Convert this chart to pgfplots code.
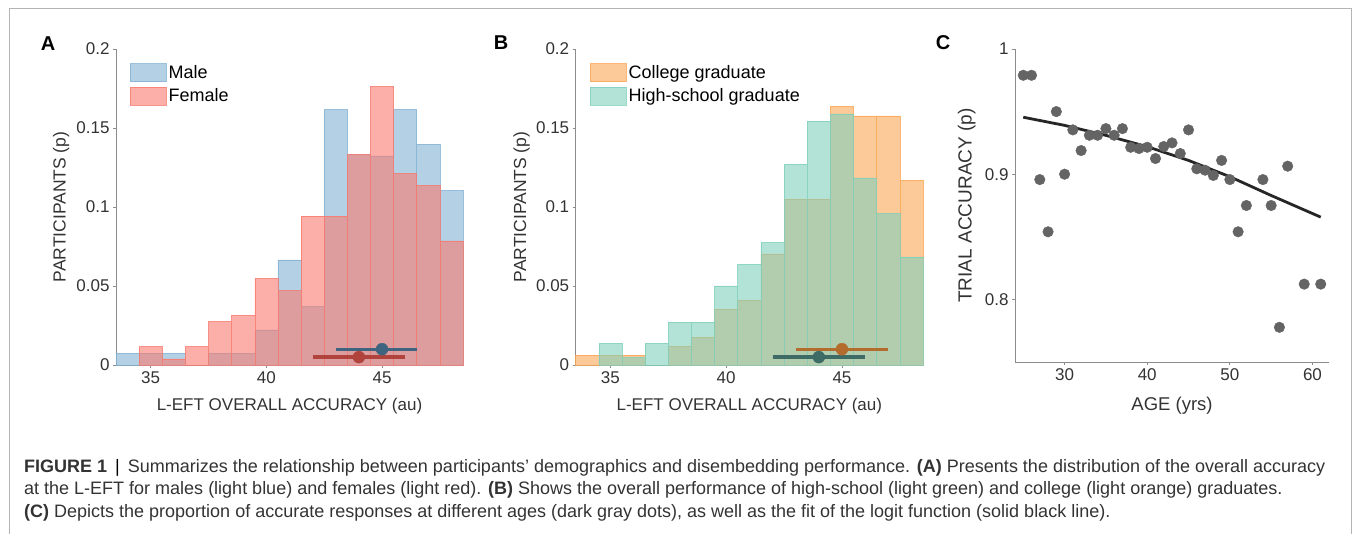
\documentclass[border=0pt]{standalone}
\usepackage{fontspec}
\setmainfont{Liberation Sans}
\usepackage{pgfplots}
\pgfplotsset{compat=1.18}
\definecolor{maleC}{HTML}{82B1D4}
\definecolor{femC}{HTML}{F87A6E}
\definecolor{colC}{HTML}{FAA553}
\definecolor{hsC}{HTML}{80CFBB}
\definecolor{maleD}{HTML}{3E6480}
\definecolor{femD}{HTML}{B0443C}
\definecolor{colD}{HTML}{B36B2E}
\definecolor{hsD}{HTML}{3F6B66}
\definecolor{axC}{HTML}{8C8C8C}
\definecolor{txC}{HTML}{333333}
\definecolor{dotC}{HTML}{646464}
\definecolor{lineC}{HTML}{262626}
\definecolor{frameC}{HTML}{B4B4B4}
\pgfplotsset{
  panel/.style={
    scale only axis, anchor=south west, clip=false,
    axis lines*=left, axis line style={axC, line width=0.8pt},
    tick style={axC, line width=0.8pt}, tick align=outside, major tick length=3pt,
    minor tick num=0,
    ticklabel style={font=\fontsize{17}{17}\selectfont, text=txC},
    xlabel style={font=\fontsize{17}{17}\selectfont, text=txC},
    ylabel style={font=\fontsize{17.5}{17.5}\selectfont, text=txC},
    /pgf/number format/assume math mode=true,
    legend style={draw=none, fill=none, inner sep=0pt, outer sep=0pt,
      font=\fontsize{18}{18}\selectfont, text=black, row sep=5pt,
      anchor=north west, cells={anchor=west}},
  },
  hist/.style={ybar, bar width=1, bar shift=0pt, fill opacity=0.6,
    draw opacity=0.8, line width=0.6pt,
    legend image code/.code={\draw[##1] (0pt,-9pt) rectangle (36pt,9pt);}},
  ebar/.style={line width=3.3pt, no marks, forget plot},
  edot/.style={only marks, mark=*, mark size=6pt, forget plot},
}
\begin{document}
\begin{tikzpicture}
\path[use as bounding box] (0pt,0pt) rectangle (1355pt,533pt);
\draw[frameC, line width=1pt] (9pt,-5pt) -- (9pt,524pt) -- (1351pt,524pt) -- (1351pt,-5pt);
% Panel letters
\node[font=\fontsize{20}{20}\selectfont\bfseries] at (48pt,489pt) {A};
\node[font=\fontsize{20}{20}\selectfont\bfseries] at (501pt,490pt) {B};
\node[font=\fontsize{20}{20}\selectfont\bfseries] at (943pt,490pt) {C};
% ---------- Panel A
\begin{axis}[panel, at={(116pt,168pt)}, width=347pt, height=316pt,
  xmin=33.5, xmax=48.5, ymin=0, ymax=0.2,
  xtick={35,40,45}, ytick={0,0.05,0.1,0.15,0.2},
  yticklabels={0,0.05,0.1,0.15,0.2},
  xlabel={L-EFT OVERALL ACCURACY (au)}, ylabel={PARTICIPANTS (p)},
  xlabel style={at={(axis description cs:0.5,-0.13)}, anchor=center},
  ylabel style={at={(axis description cs:-0.158,0.5)}, anchor=center},
  legend style={at={(rel axis cs:0.0403,0.955)}},
]
\addplot[hist, fill=maleC, draw=maleC] coordinates {
(34,0.0074) (35,0.0074) (36,0.0074) (38,0.0074) (39,0.0074) (40,0.0222)
(41,0.0665) (42,0.0369) (43,0.1616) (44,0.1335) (45,0.1323) (46,0.1616)
(47,0.1397) (48,0.1103)};
\addlegendentry{Male}
\addplot[hist, fill=femC, draw=femC] coordinates {
(35,0.0117) (36,0.0038) (37,0.0117) (38,0.0274) (39,0.0314) (40,0.0549)
(41,0.0470) (42,0.0943) (43,0.0943) (44,0.1333) (45,0.1764) (46,0.1213)
(47,0.1137) (48,0.0785)};
\addlegendentry{Female}
\addplot[ebar, maleD] coordinates {(43,0.01) (46.5,0.01)};
\addplot[edot, mark options={fill=maleD, draw=maleD}] coordinates {(45,0.01)};
\addplot[ebar, femD] coordinates {(42,0.005) (46,0.005)};
\addplot[edot, mark options={fill=femD, draw=femD}] coordinates {(44,0.005)};
\end{axis}
% ---------- Panel B
\begin{axis}[panel, at={(575.7pt,168pt)}, width=347.3pt, height=316pt,
  xmin=33.5, xmax=48.5, ymin=0, ymax=0.2,
  xtick={35,40,45}, ytick={0,0.05,0.1,0.15,0.2},
  yticklabels={0,0.05,0.1,0.15,0.2},
  xlabel={L-EFT OVERALL ACCURACY (au)}, ylabel={PARTICIPANTS (p)},
  xlabel style={at={(axis description cs:0.5,-0.13)}, anchor=center},
  ylabel style={at={(axis description cs:-0.156,0.5)}, anchor=center},
  legend style={at={(rel axis cs:0.0415,0.955)}},
]
\addplot[hist, fill=colC, draw=colC] coordinates {
(34,0.0063) (35,0.0063) (36,0.0063) (38,0.0120) (39,0.0177) (40,0.0354)
(41,0.0411) (42,0.0703) (43,0.1050) (44,0.1050) (45,0.1637) (46,0.1576)
(47,0.1576) (48,0.1169)};
\addlegendentry{College graduate}
\addplot[hist, fill=hsC, draw=hsC] coordinates {
(35,0.0137) (36,0.0046) (37,0.0137) (38,0.0272) (39,0.0272) (40,0.0500)
(41,0.0637) (42,0.0774) (43,0.1272) (44,0.1544) (45,0.1589) (46,0.1184)
(47,0.0958) (48,0.0684)};
\addlegendentry{High-school graduate}
\addplot[ebar, colD] coordinates {(43,0.01) (47,0.01)};
\addplot[edot, mark options={fill=colD, draw=colD}] coordinates {(45,0.01)};
\addplot[ebar, hsD] coordinates {(42,0.005) (46,0.005)};
\addplot[edot, mark options={fill=hsD, draw=hsD}] coordinates {(44,0.005)};
\end{axis}
% ---------- Panel C
\begin{axis}[panel, at={(1015pt,171pt)}, width=314pt, height=313pt,
  xmin=24, xmax=62, ymin=0.75, ymax=1,
  xtick={30,40,50,60}, ytick={0.8,0.9,1},
  yticklabels={0.8,0.9,1},
  xlabel={AGE (yrs)}, ylabel={TRIAL ACCURACY (p)},
  xlabel style={at={(axis description cs:0.5,-0.141)}, anchor=center,
    font=\fontsize{18.5}{18.5}\selectfont},
  ylabel style={at={(axis description cs:-0.154,0.5)}, anchor=center,
    font=\fontsize{19}{19}\selectfont},
]
\addplot[only marks, mark=*, mark size=5.3pt, mark options={fill=dotC, draw=dotC}] coordinates {
(25,0.979) (26,0.979) (27,0.8957) (28,0.854) (29,0.950) (30,0.900)
(31,0.9354) (32,0.9189) (33,0.9311) (34,0.9311) (35,0.9364) (36,0.9311)
(37,0.9364) (38,0.9215) (39,0.9205) (40,0.9215) (41,0.9125) (42,0.9221)
(43,0.9250) (44,0.9165) (45,0.9354) (46,0.9043) (47,0.9032) (48,0.8990)
(49,0.9110) (50,0.8957) (51,0.854) (52,0.875) (54,0.8957) (55,0.875)
(56,0.7777) (57,0.9064) (59,0.8122) (61,0.8122)};
\addplot[no marks, lineC, line width=2.8pt] coordinates {
(25,0.9455) (30,0.939) (35,0.931) (40,0.922) (45,0.911) (50,0.898)
(55,0.883) (61,0.8657)};
\end{axis}
% ---------- Caption
\begin{scope}[every node/.style={anchor=base west, inner sep=0pt, font=\fontsize{18}{18}\selectfont, text=txC}]
\node at (24pt,60pt) {\textbf{FIGURE 1} \,{\color{black}|}\, Summarizes the relationship between participants' demographics and disembedding performance. \textbf{(A)} Presents the distribution of the overall accuracy};
\node at (24pt,38pt) {at the L-EFT for males (light blue) and females (light red). \textbf{(B)} Shows the overall performance of high-school (light green) and college (light orange) graduates.};
\node at (24pt,16pt) {\textbf{(C)} Depicts the proportion of accurate responses at different ages (dark gray dots), as well as the fit of the logit function (solid black line).};
\end{scope}
\end{tikzpicture}
\end{document}
